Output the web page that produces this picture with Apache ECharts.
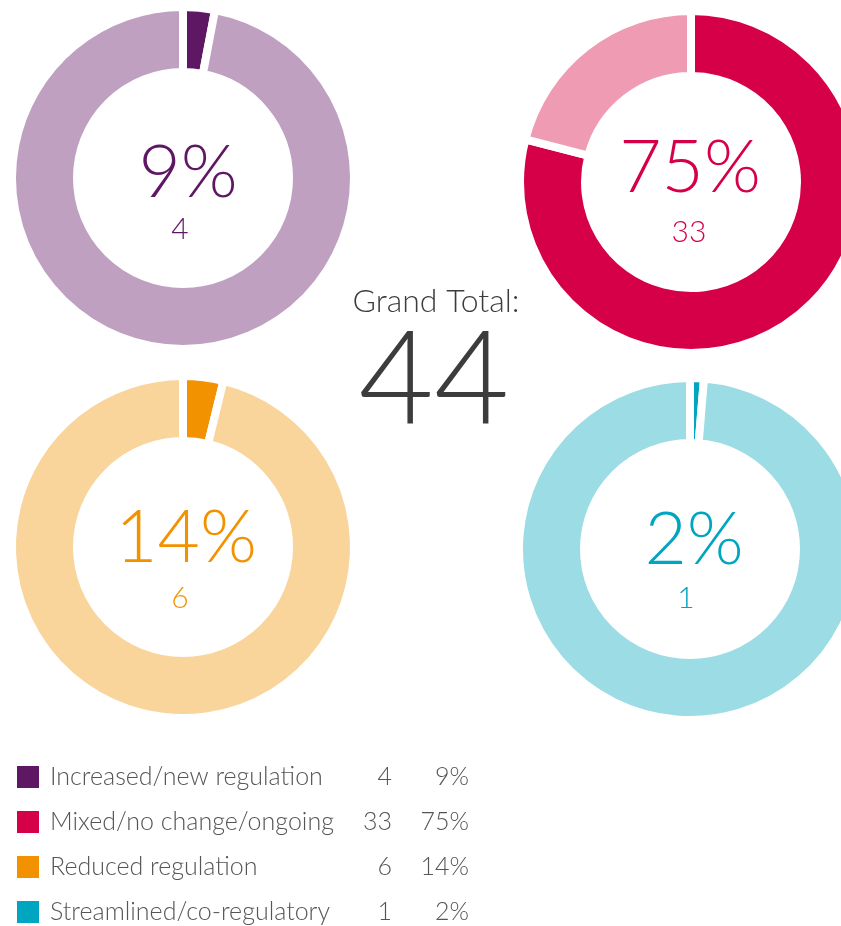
<!DOCTYPE html>
<html>
<head>
<meta charset="utf-8">
<script src="https://cdn.jsdelivr.net/npm/echarts@6/dist/echarts.min.js"></script>
<style>
html,body{margin:0;padding:0;background:#fff;}
#chart{width:841px;height:926px;}
</style>
</head>
<body>
<div id="chart"></div>
<script>
// Categories and legend data
var categories = ['Increased/new regulation', 'Mixed/no change/ongoing', 'Reduced regulation', 'Streamlined/co-regulatory'];
var counts = [4, 33, 6, 1];
var percents = ['9%', '75%', '14%', '2%'];
var grandTotal = 44;
// Slice shares as drawn in the picture (highlighted share, remainder)
var sliceHighlight = [3, 79, 3.8, 1.3];
var sliceRest = [97, 21, 96.2, 98.7];

var darkColors = ['#5e1763', '#d50047', '#f39200', '#00a6c0'];
var lightColors = ['#bfa0c0', '#ef9bb3', '#f9d49b', '#9cdce5'];

var centers = [[183, 178], [691, 182], [183, 547], [690, 549]];
var FONT = 'Lato, "Open Sans", sans-serif';

var series = categories.map(function (c, i) {
  return {
    type: 'pie',
    center: centers[i],
    radius: [106, 171],
    startAngle: 90,
    clockwise: true,
    silent: true,
    label: {show: false},
    labelLine: {show: false},
    itemStyle: {borderColor: '#ffffff', borderWidth: 8},
    data: [
      {value: sliceHighlight[i], name: c, itemStyle: {color: darkColors[i]}},
      {value: sliceRest[i], name: 'rest', itemStyle: {color: lightColors[i]}}
    ]
  };
});

var graphics = [];
var pctCenters = [[188, 173], [690, 168], [186, 538], [694, 540]];
var cntCenters = [[180, 229], [689, 232], [180, 598], [686, 598]];
categories.forEach(function (c, i) {
  graphics.push({
    type: 'text', x: pctCenters[i][0], y: pctCenters[i][1],
    style: {text: percents[i], fill: darkColors[i], font: '300 73px ' + FONT, textAlign: 'center', textVerticalAlign: 'middle'}
  });
  graphics.push({
    type: 'text', x: cntCenters[i][0], y: cntCenters[i][1],
    style: {text: String(counts[i]), fill: darkColors[i], font: '300 30px ' + FONT, textAlign: 'center', textVerticalAlign: 'middle'}
  });
  var ly = 777 + i * 45;
  graphics.push({type: 'rect', shape: {x: 17, y: ly - 11, width: 22, height: 22}, style: {fill: darkColors[i]}});
  graphics.push({type: 'text', x: 50, y: ly, style: {text: c, fill: '#555555', font: '300 25px ' + FONT, textAlign: 'left', textVerticalAlign: 'middle'}});
  graphics.push({type: 'text', x: 392, y: ly, style: {text: String(counts[i]), fill: '#555555', font: '300 25px ' + FONT, textAlign: 'right', textVerticalAlign: 'middle'}});
  graphics.push({type: 'text', x: 469, y: ly, style: {text: percents[i], fill: '#555555', font: '300 25px ' + FONT, textAlign: 'right', textVerticalAlign: 'middle'}});
});
graphics.push({type: 'text', x: 436, y: 302, style: {text: 'Grand Total:', fill: '#3c3c3c', font: '300 32px ' + FONT, textAlign: 'center', textVerticalAlign: 'middle'}});
graphics.push({type: 'text', x: 434, y: 382, style: {text: String(grandTotal), fill: '#3c3c3c', font: '300 130px ' + FONT, textAlign: 'center', textVerticalAlign: 'middle'}});

var chart = echarts.init(document.getElementById('chart'), null, {renderer: 'canvas'});
chart.setOption({
  animation: false,
  backgroundColor: '#ffffff',
  series: series,
  graphic: graphics
});
</script>
</body>
</html>
